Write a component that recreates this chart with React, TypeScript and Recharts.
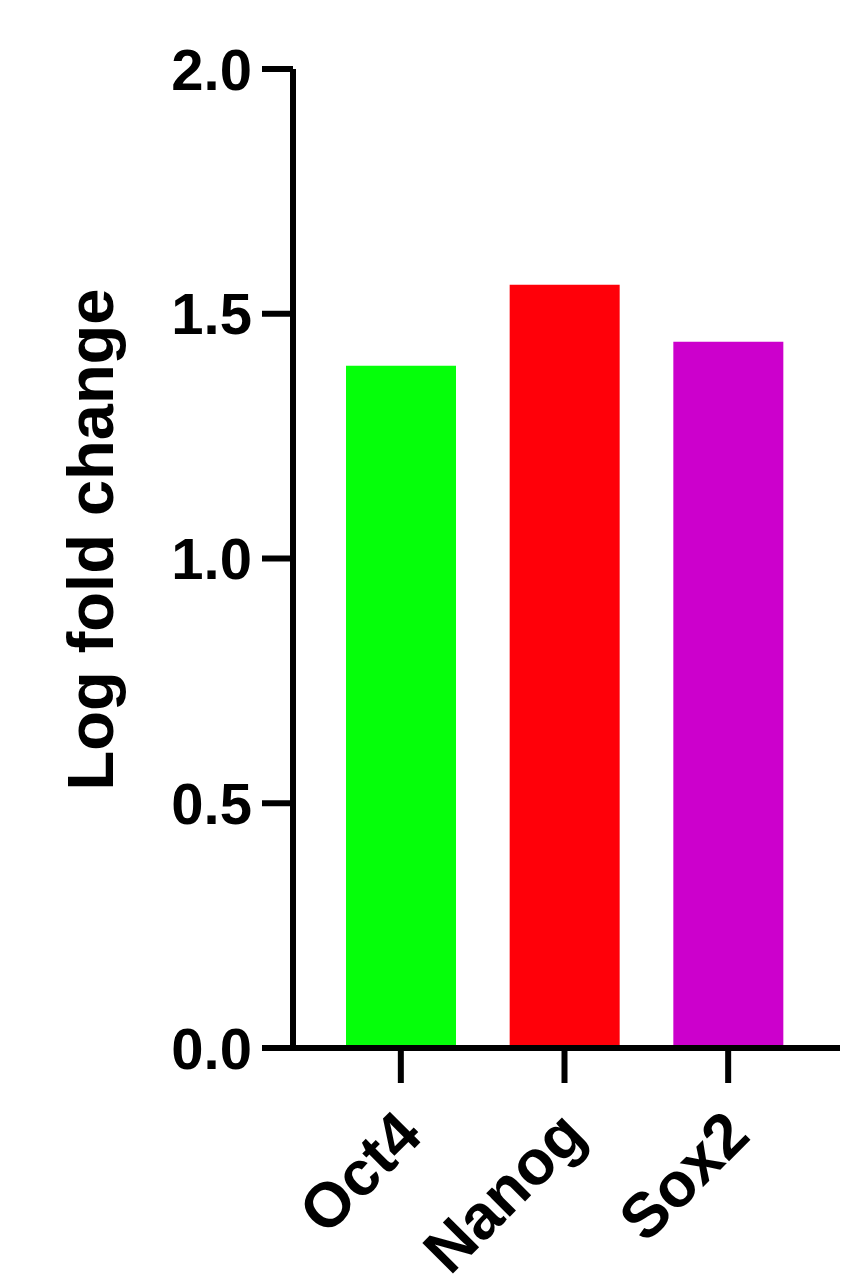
import { BarChart, Bar, XAxis, YAxis, Cell } from "recharts";

const genes = ["Oct4", "Nanog", "Sox2"];
const foldChange = [1.394, 1.559, 1.443];
const yTicks = [0, 0.5, 1.0, 1.5, 2.0];
const barColors = ["#05FF0A", "#FF0009", "#CC00CC"];

const data = genes.map((gene, i) => ({ gene, value: foldChange[i] }));

const FONT = '"Liberation Sans", Arial, Helvetica, sans-serif';

function GeneTick(props: any) {
  const { x, y, payload } = props;
  return (
    <g transform={`translate(${x + 24},${y + 55})`}>
      <text
        transform="rotate(-45)"
        textAnchor="end"
        fontFamily={FONT}
        fontWeight={700}
        fontSize={63}
        fill="#000"
      >
        {payload.value}
      </text>
    </g>
  );
}

function YTitle(props: any) {
  const { viewBox } = props;
  const x = viewBox.x + 113;
  const y = viewBox.y + viewBox.height / 2 - 19;
  return (
    <text
      x={x}
      y={y}
      transform={`rotate(-90, ${x}, ${y})`}
      textAnchor="middle"
      fontFamily={FONT}
      fontWeight={700}
      fontSize={65}
      fill="#000"
    >
      Log fold change
    </text>
  );
}

export default function App() {
  return (
    <div style={{ position: "absolute", left: 0, top: 0, width: 864, height: 1288, background: "#fff" }}>
      <BarChart width={864} height={1288} data={data} margin={{ top: 69, right: 24, left: 0, bottom: 0 }}>
        <XAxis
          dataKey="gene"
          height={240}
          padding={{ left: 26, right: 30 }}
          tickSize={35}
          tickMargin={0}
          axisLine={{ stroke: "#000", strokeWidth: 6 }}
          tickLine={{ stroke: "#000", strokeWidth: 6 }}
          tick={<GeneTick />}
          interval={0}
        />
        <YAxis
          width={293}
          domain={[0, 2]}
          ticks={yTicks}
          tickFormatter={(v: number) => v.toFixed(1)}
          tickSize={31}
          tickMargin={10}
          axisLine={{ stroke: "#000", strokeWidth: 6 }}
          tickLine={{ stroke: "#000", strokeWidth: 6 }}
          tick={{ fontFamily: FONT, fontWeight: 700, fontSize: 58, fill: "#000" }}
          label={<YTitle />}
        />
        <Bar dataKey="value" barSize={110} isAnimationActive={false}>
          {data.map((d, i) => (
            <Cell key={d.gene} fill={barColors[i]} />
          ))}
        </Bar>
      </BarChart>
    </div>
  );
}
